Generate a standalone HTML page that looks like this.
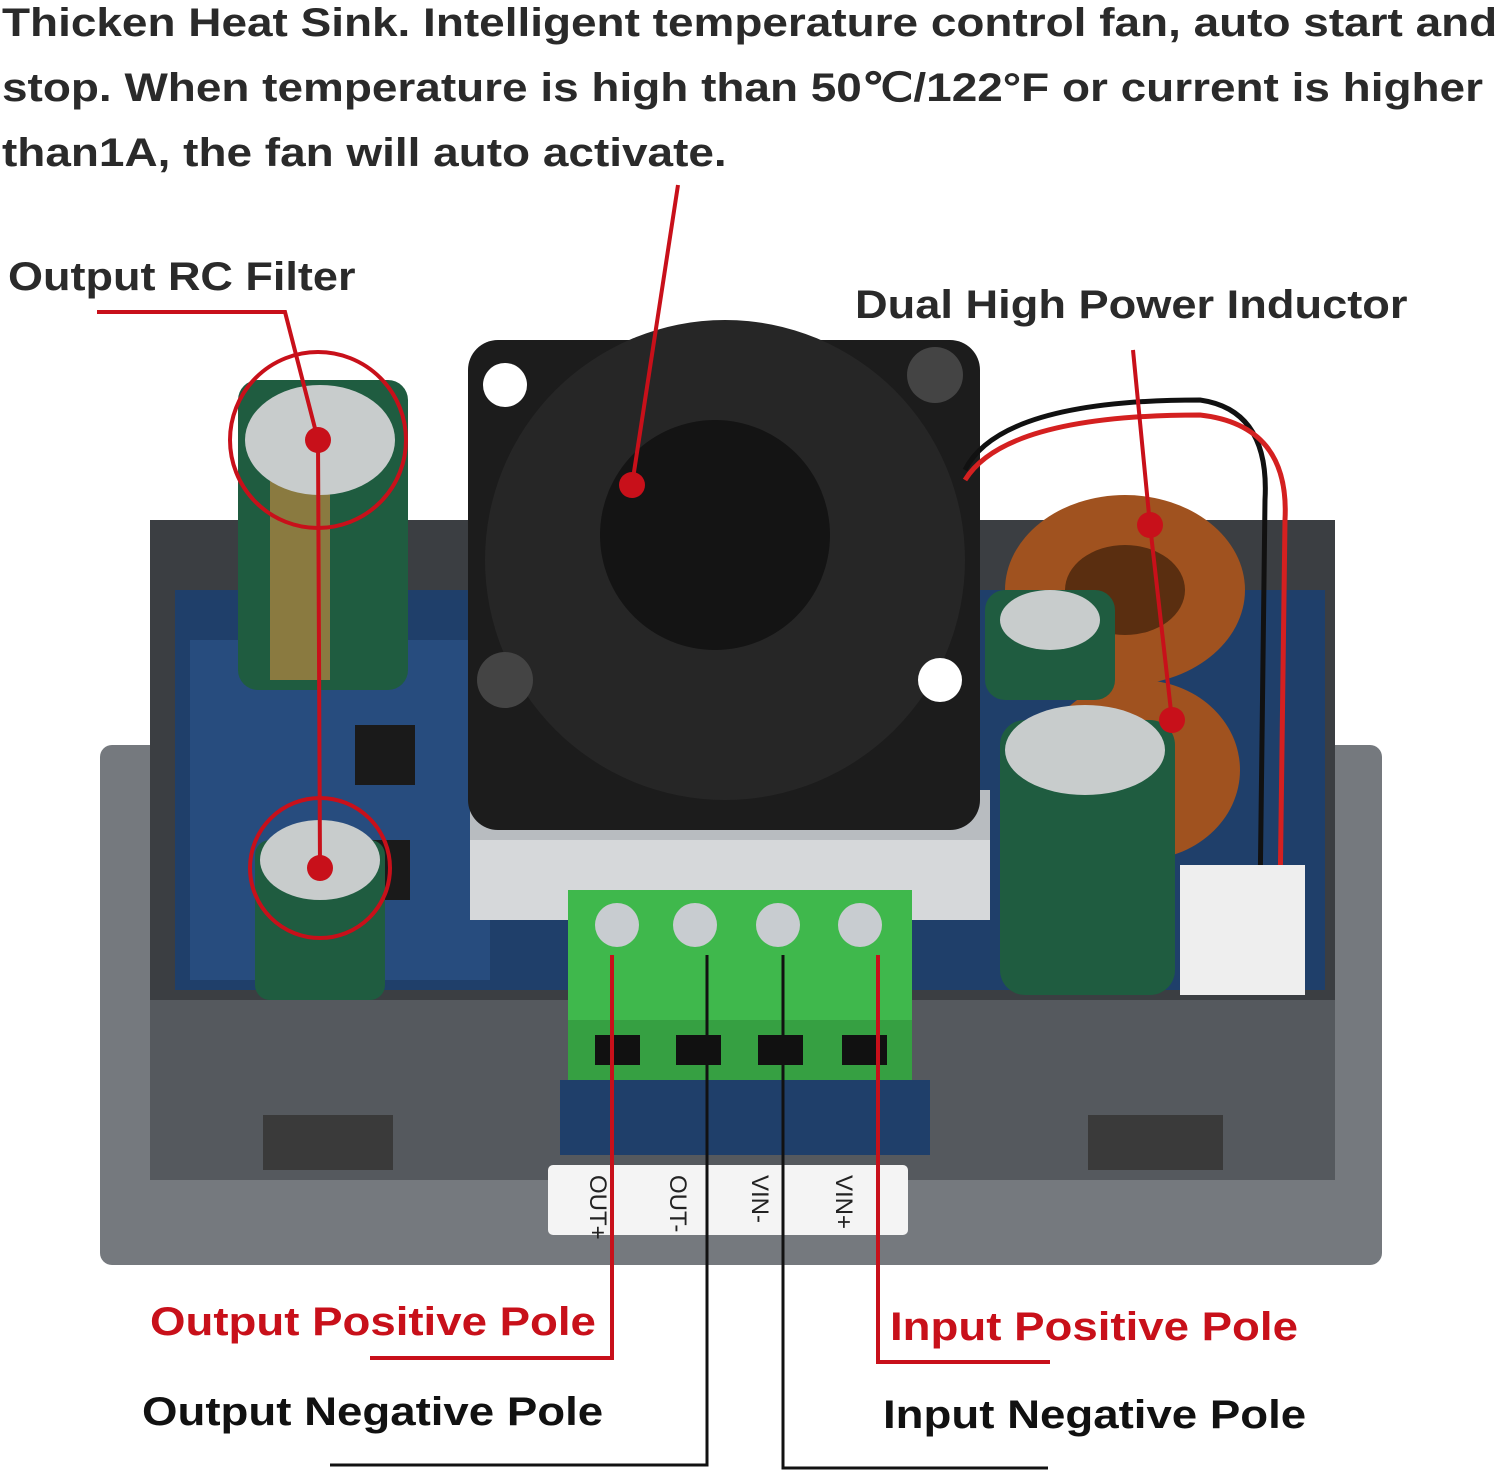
<!DOCTYPE html>
<html><head><meta charset="utf-8"><style>
html,body{margin:0;padding:0;background:#fff;}
body{width:1500px;height:1475px;overflow:hidden;position:relative;font-family:"Liberation Sans",sans-serif;}
.t{position:absolute;font-weight:bold;white-space:nowrap;transform:scaleX(1.14);transform-origin:0 0;}
</style></head><body>
<div class="t" style="left:2px;top:-9px;font-size:40px;line-height:65px;color:#2a2a2a;transform:scaleX(1.148)">Thicken Heat Sink. Intelligent temperature control fan, auto start and<br>stop. When temperature is high than 50℃/122°F or current is higher<br>than1A, the fan will auto activate.</div>
<div class="t" style="left:8px;top:255px;font-size:40px;color:#2a2a2a;transform:scaleX(1.125)">Output RC Filter</div>
<div class="t" style="left:855px;top:283px;font-size:40px;color:#2a2a2a;transform:scaleX(1.13)">Dual High Power Inductor</div>
<svg width="1500" height="1475" style="position:absolute;left:0;top:0">
<rect x="100" y="745" width="1282" height="520" rx="12" fill="#75797e"/>
<rect x="150" y="520" width="1185" height="480" fill="#3b3e42"/>
<rect x="150" y="1000" width="1185" height="180" fill="#55595e"/>
<rect x="175" y="590" width="1150" height="400" fill="#1f3f6a"/>
<rect x="190" y="640" width="300" height="340" fill="#274c7e"/>
<rect x="355" y="725" width="60" height="60" fill="#1a1a1a"/>
<rect x="360" y="840" width="50" height="60" fill="#1a1a1a"/>
<rect x="470" y="790" width="520" height="130" fill="#b8bcc0"/>
<rect x="470" y="840" width="520" height="80" fill="#d6d8da"/>
<rect x="468" y="340" width="512" height="490" rx="30" fill="#1c1c1c"/>
<circle cx="725" cy="560" r="240" fill="#262626"/>
<circle cx="715" cy="535" r="115" fill="#141414"/>
<circle cx="505" cy="385" r="22" fill="#fff"/><circle cx="935" cy="375" r="28" fill="#444"/>
<circle cx="505" cy="680" r="28" fill="#444"/><circle cx="940" cy="680" r="22" fill="#fff"/>
<rect x="238" y="380" width="170" height="310" rx="20" fill="#1f5c40"/>
<rect x="270" y="470" width="60" height="210" fill="#8a7a40"/>
<rect x="255" y="840" width="130" height="160" rx="15" fill="#1f5c40"/>
<ellipse cx="320" cy="860" rx="60" ry="40" fill="#c8cccc"/>
<ellipse cx="320" cy="440" rx="75" ry="55" fill="#c8cccc"/>
<ellipse cx="1125" cy="590" rx="120" ry="95" fill="#a0521f"/>
<ellipse cx="1125" cy="590" rx="60" ry="45" fill="#5a2e10"/>
<ellipse cx="1140" cy="770" rx="100" ry="90" fill="#a0521f"/>
<rect x="985" y="590" width="130" height="110" rx="20" fill="#1f5c40"/>
<ellipse cx="1050" cy="620" rx="50" ry="30" fill="#c8cccc"/>
<rect x="1000" y="720" width="175" height="275" rx="25" fill="#1f5c40"/>
<ellipse cx="1085" cy="750" rx="80" ry="45" fill="#c8cccc"/>
<path d="M965 470 Q1000 400 1200 400 Q1270 410 1265 500 L1260 900" stroke="#111" stroke-width="5" fill="none"/>
<path d="M965 480 Q1005 415 1200 415 Q1290 425 1285 520 L1280 900" stroke="#d42020" stroke-width="5" fill="none"/>
<rect x="1180" y="865" width="125" height="130" fill="#eeeeee"/>
<rect x="568" y="890" width="344" height="190" fill="#3fb84c"/>
<rect x="568" y="1020" width="344" height="60" fill="#36a042"/>
<circle cx="617" cy="925" r="22" fill="#c8ccd0"/><circle cx="695" cy="925" r="22" fill="#c8ccd0"/>
<circle cx="778" cy="925" r="22" fill="#c8ccd0"/><circle cx="860" cy="925" r="22" fill="#c8ccd0"/>
<rect x="595" y="1035" width="45" height="30" fill="#111"/><rect x="676" y="1035" width="45" height="30" fill="#111"/>
<rect x="758" y="1035" width="45" height="30" fill="#111"/><rect x="842" y="1035" width="45" height="30" fill="#111"/>
<rect x="560" y="1080" width="370" height="75" fill="#1f3f6a"/>
<rect x="263" y="1115" width="130" height="55" fill="#3a3a3a"/>
<rect x="1088" y="1115" width="135" height="55" fill="#3a3a3a"/>
<rect x="548" y="1165" width="360" height="70" rx="5" fill="#f4f4f4"/>
<g font-family="Liberation Sans" font-size="24" fill="#222">
<text transform="translate(590,1175) rotate(90)">OUT+</text>
<text transform="translate(670,1175) rotate(90)">OUT-</text>
<text transform="translate(752,1175) rotate(90)">VIN-</text>
<text transform="translate(836,1175) rotate(90)">VIN+</text>
</g>
<g stroke="#c8101a" stroke-width="4" fill="none">
<circle cx="318" cy="440" r="88"/>
<circle cx="320" cy="868" r="70"/>
<path d="M97 312 H285 L318 440 L320 868"/>
<path d="M678 185 L632 485"/>
<path d="M1133 350 L1150 525 L1172 720"/>
<path d="M612 955 V1358 H370"/>
<path d="M878 955 V1362 H1050"/>
</g>
<g fill="#c8101a">
<circle cx="318" cy="440" r="13"/><circle cx="320" cy="868" r="13"/>
<circle cx="632" cy="485" r="13"/><circle cx="1150" cy="525" r="13"/><circle cx="1172" cy="720" r="13"/>
</g>
<g stroke="#111" stroke-width="3" fill="none">
<path d="M707 955 V1465 H330"/>
<path d="M783 955 V1468 H1048"/>
</g>
</svg>
<div class="t" style="left:150px;top:1300px;font-size:40px;color:#c8101a">Output Positive Pole</div>
<div class="t" style="left:890px;top:1305px;font-size:40px;color:#c8101a">Input Positive Pole</div>
<div class="t" style="left:142px;top:1390px;font-size:40px;color:#111">Output Negative Pole</div>
<div class="t" style="left:883px;top:1393px;font-size:40px;color:#111">Input Negative Pole</div>
</body></html>
